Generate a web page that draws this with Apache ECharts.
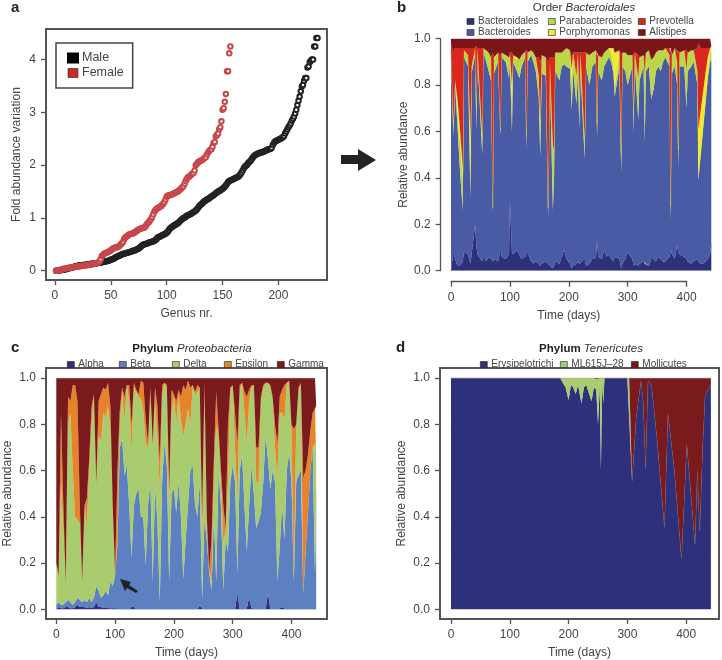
<!DOCTYPE html>
<html><head><meta charset="utf-8">
<style>html,body{margin:0;padding:0;background:#fff}#c{width:722px;height:660px}</style>
<script src="https://cdn.jsdelivr.net/npm/echarts@6/dist/echarts.min.js"></script>
</head><body><div id="c"></div>
<script>
// ---------- Panel a ----------
const maleVariation = [
0,0,.005,.01,.01,.015,.02,.02,.03,.03,
.035,.04,.05,.05,.06,.065,.07,.08,.09,.09,
.095,.10,.10,.105,.11,.11,.115,.115,.12,.12,
.125,.125,.13,.13,.135,.14,.14,.145,.15,.15,
.155,.16,.165,.17,.175,.18,.185,.19,.20,.21,
.215,.22,.23,.25,.26,.27,.28,.29,.30,.31,
.315,.32,.33,.335,.34,.35,.355,.36,.37,.38,
.385,.39,.40,.41,.42,.44,.46,.48,.49,.50,
.505,.51,.52,.53,.54,.545,.55,.56,.57,.58,
.60,.63,.64,.65,.66,.67,.68,.69,.70,.72,
.74,.77,.80,.82,.83,.85,.86,.87,.89,.90,
.92,.94,.96,.98,1.0,1.01,1.02,1.04,1.05,1.06,
1.07,1.08,1.10,1.11,1.12,1.14,1.16,1.19,1.22,1.24,
1.26,1.28,1.30,1.32,1.33,1.35,1.36,1.37,1.39,1.40,
1.42,1.43,1.45,1.47,1.48,1.50,1.51,1.52,1.54,1.55,
1.57,1.59,1.62,1.65,1.68,1.70,1.71,1.72,1.73,1.74,
1.75,1.76,1.77,1.78,1.80,1.83,1.86,1.90,1.94,1.97,
1.99,2.01,2.04,2.06,2.08,2.11,2.14,2.17,2.19,2.20,
2.21,2.22,2.23,2.24,2.24,2.25,2.26,2.27,2.28,2.29,
2.30,2.30,2.31,2.33,2.38,2.42,2.45,2.46,2.47,2.48,
2.49,2.50,2.52,2.53,2.55,2.60,2.64,2.68,2.72,2.75,
2.79,2.84,2.88,2.92,2.98,3.05,3.14,3.22,3.30,3.40,
3.49,3.52,3.60,3.65,3.65,3.85,3.87,3.95,3.98,4.0,
4.0,4.25,4.25,4.41,4.41];
const femaleVariation = [
0,0,.01,.015,.02,.02,.03,.035,.04,.045,
.05,.05,.055,.06,.065,.065,.07,.07,.075,.08,
.08,.085,.09,.09,.095,.10,.10,.105,.11,.11,
.115,.12,.12,.125,.13,.135,.14,.145,.16,.18,
.22,.28,.30,.32,.33,.34,.35,.36,.37,.39,
.40,.42,.43,.44,.44,.45,.46,.48,.50,.52,
.55,.60,.63,.65,.66,.68,.69,.70,.70,.71,
.72,.74,.75,.77,.78,.79,.80,.81,.81,.82,
.84,.87,.90,.92,.95,.98,1.02,1.07,1.12,1.15,
1.17,1.19,1.20,1.21,1.22,1.25,1.27,1.30,1.35,1.40,
1.42,1.43,1.43,1.44,1.45,1.46,1.47,1.48,1.49,1.50,
1.52,1.54,1.56,1.58,1.60,1.65,1.70,1.74,1.77,1.78,
1.80,1.82,1.84,1.85,1.90,2.00,2.02,2.05,2.07,2.08,
2.09,2.10,2.12,2.14,2.15,2.20,2.24,2.27,2.29,2.30,
2.35,2.42,2.44,2.55,2.57,2.60,2.68,2.72,2.83,3.05,
3.08,3.20,3.35,3.78,3.78,4.12,4.25];

// ---------- Panel b ----------
const daysB = [
0,4,7,11,15,20,22,29,33,35,
41,43,45,53,55,60,64,68,71,73,
80,84,86,93,98.5,100,103.5,105.5,112,116,
120,126,128,130,136,140,144,149,151.5,154,
161,165,168,173,175,177,184,188,192,196,
202,205,207.5,213,215.5,218,220,227,229.5,235,
240,246,248,250,256,260,264,268,272,276,
278,286,289,291,296,300,308,310,312,318,
320,327,329,331,336,340,344,348,352,356,
360,364,371,373,375,380,384,386,388,396,
400,402,408,412,418.5,420,424,428,432,436,
440,442];
const bacteroidales = [
0,.08,.05,.02,.02,.04,.08,.07,.03,.07,
.20,.11,.07,.04,.06,.04,.06,.05,.04,.05,
.04,.09,.06,.05,.07,.30,.08,.07,.09,.07,
.05,.06,.06,.08,.04,.03,.04,.03,.02,.03,
.04,.03,.02,.01,.02,.04,.03,.06,.09,.05,
.03,.01,.02,.03,.04,.03,.03,.05,.02,.03,
.05,.05,.13,.06,.05,.09,.06,.07,.05,.04,
.06,.05,.01,.03,.05,.08,.05,.02,.03,.02,
.03,.04,.03,.03,.02,.05,.05,.04,.06,.05,
.04,.04,.06,.09,.07,.05,.11,.08,.07,.06,
.05,.04,.03,.04,.05,.04,.03,.03,.04,.05,
.07,.12];
const bacteroides = [
.95,.50,.75,.60,.42,.22,.84,.81,.28,.78,
.73,.49,.85,.46,.88,.86,.80,.77,.20,.80,
.86,.49,.86,.85,.76,.60,.52,.83,.77,.76,
.83,.86,.46,.82,.89,.87,.82,.72,.47,.82,
.80,.20,.82,.25,.38,.82,.79,.82,.80,.83,
.84,.68,.84,.69,.81,.58,.83,.43,.86,.77,
.83,.85,.44,.80,.77,.79,.84,.85,.85,.81,
.69,.83,.41,.85,.81,.72,.83,.57,.87,.63,
.79,.84,.52,.83,.86,.69,.73,.82,.82,.81,
.86,.88,.82,.12,.78,.83,.69,.36,.81,.82,
.65,.82,.85,.86,.75,.35,.47,.58,.68,.78,
.83,.79];
const parabacteroides = [
0,.04,.01,.06,.12,.14,.03,.05,.05,.03,
.03,.10,.04,.06,.02,.05,.08,.10,.03,.06,
.04,.02,.02,.03,.09,.04,.12,.03,.05,.08,
.05,.03,.06,.04,.02,.04,.06,.08,.12,.08,
.08,.04,.06,.26,.12,.08,.12,.06,.06,.08,
.08,.12,.08,.12,.09,.14,.08,.08,.06,.13,
.06,.05,.06,.07,.10,.06,.05,.04,.04,.03,
.04,.06,.06,.06,.08,.13,.05,.10,.04,.18,
.10,.05,.30,.08,.07,.17,.14,.08,.07,.09,
.05,.04,.05,.05,.08,.08,.10,.08,.06,.07,
.17,.08,.07,.05,.06,.01,0,0,0,0,
.04,.05];
const porphyromonas = [
0,.02,.01,.06,.06,.04,0,0,.22,0,
0,.02,0,.02,0,0,0,0,0,.01,
0,0,0,0,0,0,.08,0,.01,0,
0,0,0,0,0,0,0,.01,.03,0,
0,0,0,.02,0,0,0,0,0,0,
0,.06,0,0,0,0,0,0,0,0,
0,0,0,0,0,0,0,0,.02,.08,
.15,.01,.03,0,0,0,0,0,0,0,
0,0,0,0,0,0,0,0,0,0,
0,0,0,.02,0,0,0,0,0,0,
0,0,0,0,0,.21,.19,.16,.13,.09,
.02,.01];
const prevotella = [
.03,.30,.14,.22,.34,.52,.01,.03,.38,.08,
0,.25,0,.38,0,0,0,0,.67,0,
0,.33,0,0,0,0,.14,0,0,0,
0,0,.37,0,0,0,0,.08,.26,0,
0,.63,.02,.38,.40,0,0,0,0,0,
0,.05,0,.10,0,.19,0,.38,0,0,
0,0,.30,0,0,0,0,0,0,0,
0,0,.42,0,0,0,0,.25,0,.10,
0,0,.07,0,0,0,0,0,0,0,
0,0,.03,.68,0,0,.05,.42,0,0,
.08,0,0,0,.10,.37,.27,.19,.11,.04,
0,0];
const alistipes = [
.02,.06,.04,.04,.04,.04,.04,.04,.04,.04,
.04,.03,.04,.04,.04,.05,.06,.08,.06,.08,
.06,.07,.06,.07,.08,.06,.06,.07,.08,.09,
.07,.05,.05,.06,.05,.06,.08,.08,.10,.07,
.08,.10,.08,.08,.08,.06,.06,.06,.05,.04,
.05,.08,.06,.06,.06,.06,.06,.06,.06,.07,
.06,.05,.07,.07,.08,.06,.05,.04,.04,.04,
.06,.05,.07,.06,.06,.07,.07,.06,.06,.07,
.08,.07,.08,.06,.05,.09,.08,.06,.05,.05,
.05,.04,.04,.04,.07,.04,.05,.06,.06,.05,
.05,.06,.05,.05,.04,.02,.04,.04,.04,.04,
.04,.03];

// ---------- Panel c ----------
const daysC = [
0,4,8,12,16,20,24,28,32,36,
40,44,48,52,56,60,64,68,72,76,
80,84,88,92,96,100,104,108,112,116,
120,124,128,132,136,140,144,148,152,156,
160,164,168,172,176,180,184,188,192,196,
200,204,208,212,216,220,224,228,232,236,
240,244,248,252,256,260,264,268,272,276,
280,284,288,292,296,300,304,308,312,316,
320,324,328,332,336,340,344,348,352,356,
360,364,368,372,376,380,384,388,392,396,
400,404,408,412,416,420,424,428,432,436,
440,442];
const alpha = [
0,.01,.005,.005,.01,.01,.005,.005,.01,.02,
.01,.01,.01,.005,.01,.005,.01,.03,.01,.01,
.005,.01,.005,.005,.005,.005,.005,0,0,0,
0,0,.01,.01,0,0,0,0,0,0,
0,0,0,0,0,0,0,0,0,0,
0,0,0,0,0,0,0,0,0,.005,
0,.015,.005,0,0,0,0,0,0,0,
0,0,0,0,0,0,0,.07,0,0,
0,.005,.05,.005,.005,0,0,0,0,0,
.07,0,0,0,0,.005,.01,.005,0,0,
0,0,0,0,0,0,0,0,0,0,
0,0];
const beta = [
.02,.02,.015,.015,.02,.03,.025,.015,.02,.03,
.03,.02,.03,.025,.04,.025,.04,.07,.07,.04,
.055,.07,.055,.115,.095,.145,.275,.70,.74,.58,
.62,.45,.21,.44,.50,.52,.40,.40,.19,.45,
.55,.12,.53,.38,.03,.55,.72,.62,.12,.50,
.52,.42,.55,.40,.13,.30,.45,.60,.62,.445,
.40,.535,.035,.39,.30,.16,.08,.40,.12,.60,
.45,.08,.30,.25,.55,.62,.55,.08,.60,.67,
.45,.245,.40,.615,.495,.35,.38,.42,.55,.75,
.58,.52,.60,.55,.12,.265,.44,.295,.60,.68,
.55,.12,.55,.58,.60,.07,.25,.42,.60,.70,
.15,.50];
const delta = [
.18,.12,.53,.33,.09,.76,.82,.58,.37,.34,
.33,.09,.41,.33,.55,.77,.88,.45,.67,.68,
.79,.75,.82,.66,.30,0,.02,.10,.20,.24,
.35,.45,.46,.51,.44,.40,.51,.46,.53,.25,
.39,.58,.37,.37,.49,.37,.26,.34,.33,.35,
.40,.38,.38,.42,.62,.50,.42,.20,.35,.48,
.54,.41,.26,.58,.05,.01,.04,.20,.68,.15,
.10,.22,.03,.30,.40,.35,.15,.32,.35,.31,
.40,.47,.45,.34,.47,.20,.17,.48,.41,.23,
.33,.44,.30,.15,.45,.58,.40,.52,.38,.31,
.23,.02,.23,.37,.37,0,0,0,0,0,
.57,.12];
const epsilon = [
0,0,.30,.10,0,.12,.05,.37,.57,.51,
.08,0,0,.12,.05,.08,0,0,.15,.20,
.11,.12,.10,.10,.05,.01,.30,.06,.02,.10,
0,.07,.12,.02,.01,.01,.08,.12,.10,.02,
.02,.02,.06,.13,.12,.05,0,.01,.07,.10,
.01,.10,.02,.10,.22,.15,.12,.16,0,.01,
.03,0,.10,.01,.05,0,.18,.05,.14,.03,
.05,.15,.02,.25,.01,0,.15,.25,.02,0,
.09,.20,.05,.01,0,.15,.15,.02,.01,0,
0,.01,.02,.10,.15,.07,.10,.15,0,0,
.02,.64,.02,.01,.01,.50,.35,.25,.17,.15,
.16,.26];
const gamma = [
.80,.85,.15,.55,.88,.08,.10,.03,.03,.10,
.55,.88,.55,.52,.35,.12,.07,.45,.10,.07,
.04,.05,.02,.12,.55,.84,.40,.14,.04,.08,
.03,.03,.20,.02,.05,.07,.01,.02,.18,.28,
.04,.28,.04,.12,.36,.03,.02,.03,.48,.05,
.07,.10,.05,.08,.03,.05,.01,.04,.03,.06,
.03,.04,.60,.02,.60,.83,.70,.35,.06,.22,
.40,.55,.65,.20,.04,.03,.15,.28,.03,.02,
.06,.08,.05,.03,.03,.30,.30,.08,.03,.02,
.02,.03,.08,.20,.28,.08,.05,.03,.02,.01,
.20,.22,.20,.04,.02,.43,.40,.33,.23,.15,
.12,.12];

// ---------- Panel d ----------
const daysD = [0,100,186,190,195,200,204,208,212,216,222,226,230,234,239,243,247,250,253,255,257,259,261,265,300,303,308,315,323,327,331,335,341,350,363,369,380,392,398,401,408,415,419,423,428,432,437,442];
const erysipelotrichi = [1,1,1,.98,.96,.905,.97,.96,.93,.97,.89,.96,.97,.94,.90,.96,.95,.80,.96,.60,.97,.89,1,1,1,1,.555,.83,.99,.90,.61,.99,.97,.75,.355,.85,.60,.22,.55,.72,.50,.28,.61,.34,.70,.92,.95,.97];
const ml615 = [0,0,0,.02,.04,.095,.03,.04,.07,.03,.11,.04,.03,.06,.10,.04,.045,.195,.04,.40,.03,.11,0,0,0,0,0,0,0,0,0,0,0,0,0,0,0,0,0,0,0,0,0,0,0,0,0,0];
const mollicutes = [0,0,0,0,0,0,0,0,0,0,0,0,0,0,0,0,.005,.005,0,0,0,0,0,0,0,0,.445,.17,.01,.10,.39,.01,.03,.25,.645,.15,.40,.78,.45,.28,.50,.72,.39,.66,.30,.08,.05,.03];

// ---------- Tick values ----------
const genusTicks = [0,50,100,150,200];
const foldTicks = [0,1,2,3,4];
const timeTicks = [0,100,200,300,400];
const shareTicks = [0,.2,.4,.6,.8,1];

// ---------- Styling ----------
const FONT = '"Liberation Sans", Arial, sans-serif';
const INK = '#444';
const AXIS = '#555';

function shares(columns) {
  const n = columns[0].length;
  const totals = [];
  for (let i = 0; i < n; i++) totals.push(columns.reduce((s, c) => s + c[i], 0));
  return columns.map(c => c.map((v, i) => v / totals[i]));
}
// The share comes first in each row so that ECharts stacks it rather than the day.
function areaSeries(names, columns, colors, t, gridAxis, stack) {
  const norm = shares(columns);
  return names.map((name, k) => ({
    name, type: 'line', stack, xAxisIndex: gridAxis, yAxisIndex: gridAxis,
    encode: { x: 1, y: 0 },
    data: norm[k].map((v, i) => [v, t[i]]),
    symbol: 'none', showSymbol: false, silent: true, animation: false, z: 2 + k,
    itemStyle: { color: colors[k] },
    lineStyle: { width: 0.2, color: colors[k] },
    areaStyle: { color: colors[k], opacity: 1 }
  }));
}
function valueAxis(grid, extent, ticks, o) {
  return Object.assign({
    type: 'value', gridIndex: grid, min: extent[0], max: extent[1], scale: false,
    splitLine: { show: false },
    axisLine: { show: false, onZero: false },
    axisTick: { show: true, customValues: ticks, length: 5, lineStyle: { color: AXIS, width: 1.3 } },
    axisLabel: { show: true, customValues: ticks, color: INK, fontFamily: FONT, fontSize: 12, margin: 10 },
    nameLocation: 'middle',
    nameTextStyle: { color: INK, fontFamily: FONT, fontSize: 12 }
  }, o);
}
function hiddenAxis(grid, extent) {
  return { type: 'value', gridIndex: grid, min: extent[0], max: extent[1], show: false, splitLine: { show: false } };
}
const share = v => v.toFixed(1);
const shareLabel = { show: true, customValues: shareTicks, color: INK, fontFamily: FONT, fontSize: 12, margin: 10, formatter: share };

const bNames = ['Bacteroidales', 'Bacteroides', 'Parabacteroides', 'Porphyromonas', 'Prevotella', 'Alistipes'];
const bColors = ['#2e307c', '#4a5ba6', '#bcd64a', '#f2ea2e', '#d8281e', '#7b1518'];
const cNames = ['Alpha', 'Beta', 'Delta', 'Epsilon', 'Gamma'];
const cColors = ['#2e307c', '#5c80c2', '#a9cd6e', '#e6832b', '#7b1a1c'];
const dNames = ['Erysipelotrichi', 'ML615J\u201328', 'Mollicutes'];
const dColors = ['#2e307c', '#a9cd6e', '#7b1a1c'];

function swatchLegend(names, left, top) {
  return {
    data: names, left, top, orient: 'vertical', padding: 0, itemGap: 0,
    itemWidth: 7, itemHeight: 6, icon: 'rect', selectedMode: false, itemStyle: { borderColor: '#222', borderWidth: 0.6 },
    textStyle: { color: INK, fontFamily: FONT, fontSize: 10, lineHeight: 11, padding: [0, 0, 0, -1] }
  };
}
function titleText(text, cx, y) {
  return { text, left: cx, top: y, textAlign: 'center', padding: 0,
    textStyle: { fontWeight: 'normal', rich: {
      n: { fontFamily: FONT, fontSize: 11.5, color: '#333', fontWeight: 'normal' },
      b: { fontFamily: FONT, fontSize: 11.5, color: '#222', fontWeight: 'bold' },
      i: { fontFamily: FONT, fontSize: 11.5, color: '#333', fontStyle: 'italic', fontWeight: 'normal' } } } };
}
function letter(text, x, y) {
  return { text, left: x, top: y, padding: 0, textStyle: { fontFamily: FONT, fontSize: 15, fontWeight: 'bold', color: '#222' } };
}

const option = {
  animation: false,
  backgroundColor: '#fff',
  title: [
    letter('a', 11, 0), letter('b', 397, 0), letter('c', 11, 340), letter('d', 396, 340),
    titleText('{n|Order }{i|Bacteroidales}', 584, 2),
    titleText('{b|Phylum }{i|Proteobacteria}', 192, 343),
    titleText('{b|Phylum }{i|Tenericutes}', 591, 343)
  ],
  grid: [
    { left: 46, top: 29, width: 281, height: 251, show: true, backgroundColor: 'transparent', borderColor: AXIS, borderWidth: 2 },
    { left: 451, top: 38.7, width: 260.3, height: 232 },
    { left: 451, top: 280.7, width: 235.6, height: 1 },
    { left: 46, top: 368, width: 281, height: 252, show: true, backgroundColor: 'transparent', borderColor: AXIS, borderWidth: 2 },
    { left: 440, top: 368, width: 279, height: 252, show: true, backgroundColor: 'transparent', borderColor: AXIS, borderWidth: 2 }
  ],
  xAxis: [
    valueAxis(0, [-8, 243.5], genusTicks, { name: 'Genus nr.', nameGap: 28 }),
    hiddenAxis(1, [0, 442]),
    valueAxis(2, [0, 400], timeTicks, { name: 'Time (days)', nameGap: 28,
      axisLine: { show: true, onZero: false, lineStyle: { color: AXIS, width: 1.3 } } }),
    valueAxis(3, [-17.5, 460.4], timeTicks, { name: 'Time (days)', nameGap: 28 }),
    valueAxis(4, [-18.7, 455.8], timeTicks, { name: 'Time (days)', nameGap: 28 })
  ],
  yAxis: [
    valueAxis(0, [-0.176, 4.58], foldTicks, { name: 'Fold abundance variation', nameGap: 23 }),
    valueAxis(1, [0, 1], shareTicks, { name: 'Relative abundance', nameGap: 29, offset: 10.3,
      axisLine: { show: true, onZero: false, lineStyle: { color: AXIS, width: 1.3 } }, axisLabel: shareLabel }),
    hiddenAxis(2, [0, 1]),
    valueAxis(3, [-0.042, 1.044], shareTicks, { name: 'Relative abundance', nameGap: 32, axisLabel: shareLabel }),
    valueAxis(4, [-0.042, 1.044], shareTicks, { name: 'Relative abundance', nameGap: 32, axisLabel: shareLabel })
  ],
  legend: [
    { data: [{ name: 'Male', itemStyle: { color: '#000', borderColor: '#000', opacity: 1 } },
             { name: 'Female', itemStyle: { color: '#cc2a2a', borderColor: '#222', borderWidth: .6, opacity: 1 } }],
      left: 56, top: 43, orient: 'vertical', selectedMode: false, icon: 'rect',
      itemWidth: 10, itemHeight: 9, itemGap: 1, padding: [8, 9, 8, 11], borderColor: '#444', borderWidth: 1.5,
      textStyle: { color: INK, fontFamily: FONT, fontSize: 12.5, lineHeight: 14, padding: [0, 0, 0, -1] } },
    swatchLegend(['Bacteroidales', 'Bacteroides'], 466.7, 16),
    swatchLegend(['Parabacteroides', 'Porphyromonas'], 548, 16),
    swatchLegend(['Prevotella', 'Alistipes'], 638, 16),
    swatchLegend(['Alpha'], 67, 359), swatchLegend(['Beta'], 119, 359), swatchLegend(['Delta'], 172, 359),
    swatchLegend(['Epsilon'], 224, 359), swatchLegend(['Gamma'], 277, 359),
    swatchLegend(['Erysipelotrichi'], 480, 359), swatchLegend(['ML615J\u201328'], 560, 359), swatchLegend(['Mollicutes'], 631, 359)
  ],
  series: [
    { name: 'Male', type: 'scatter', xAxisIndex: 0, yAxisIndex: 0, symbol: 'emptyCircle', symbolSize: 4.5, silent: true,
      data: maleVariation.map((v, i) => [i + 1, v]), itemStyle: { color: '#222', borderWidth: .7, opacity: 1 } },
    { name: 'Female', type: 'scatter', xAxisIndex: 0, yAxisIndex: 0, symbol: 'emptyCircle', symbolSize: 4.5, silent: true,
      data: femaleVariation.map((v, i) => [i + 1, v]), itemStyle: { color: '#c8474a', borderWidth: .7, opacity: 1 } },
    ...areaSeries(bNames, [bacteroidales, bacteroides, parabacteroides, porphyromonas, prevotella, alistipes], bColors, daysB, 1, 'b'),
    ...areaSeries(cNames, [alpha, beta, delta, epsilon, gamma], cColors, daysC, 3, 'c'),
    ...areaSeries(dNames, [erysipelotrichi, ml615, mollicutes], dColors, daysD, 4, 'd')
  ],
  graphic: [
    { type: 'polygon', silent: true, z: 100, shape: { points: [[341,155],[358,155],[358,149],[376,160],[358,171],[358,164],[341,164]] }, style: { fill: '#222' } },
    { type: 'polygon', silent: true, z: 100, shape: { points: [[120,579],[131,582],[129,585],[138,591],[136,593],[127,588],[125,591]] }, style: { fill: '#222' } }
  ]
};
const chart = echarts.init(document.getElementById('c'), null, { renderer: 'canvas', width: 722, height: 660 });
chart.setOption(option);
</script></body></html>
